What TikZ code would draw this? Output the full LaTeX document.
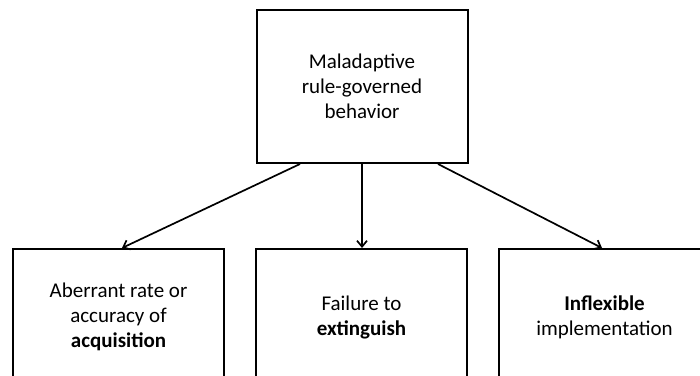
\documentclass[tikz,border=0pt]{standalone}
\usepackage{fontspec}
\setmainfont{Carlito}
\usetikzlibrary{arrows.meta}
\begin{document}
\begin{tikzpicture}[x=1pt,y=-1pt,
  box/.style={draw=black,line width=2pt,minimum width=211pt,inner sep=0pt,align=center,
    font=\fontsize{21}{25}\selectfont},
  conn/.style={line width=1.7pt,-{Straight Barb[length=6pt,width=10pt,line width=1.7pt]}}]
\useasboundingbox (0,0) rectangle (700,375);
\node[box,minimum height=153pt] (top) at (362,86.5) {Maladaptive\\rule-governed\\behavior};
\node[box,minimum height=136pt] (left) at (118.5,317) {Aberrant rate or\\accuracy of\\\textbf{acquisition}};
\node[box,minimum height=136pt] (mid) at (361.5,317) {Failure to\\\textbf{extinguish}};
\node[box,minimum height=136pt] (right) at (604.5,317) {\textbf{Inflexible}\\implementation};
\draw[conn] ([xshift=-62pt]top.south) -- ([xshift=3.5pt]left.north);
\draw[conn] ([xshift=0pt]top.south) -- ([xshift=0.5pt]mid.north);
\draw[conn] ([xshift=76pt]top.south) -- ([xshift=-2.5pt]right.north);
\end{tikzpicture}
\end{document}
